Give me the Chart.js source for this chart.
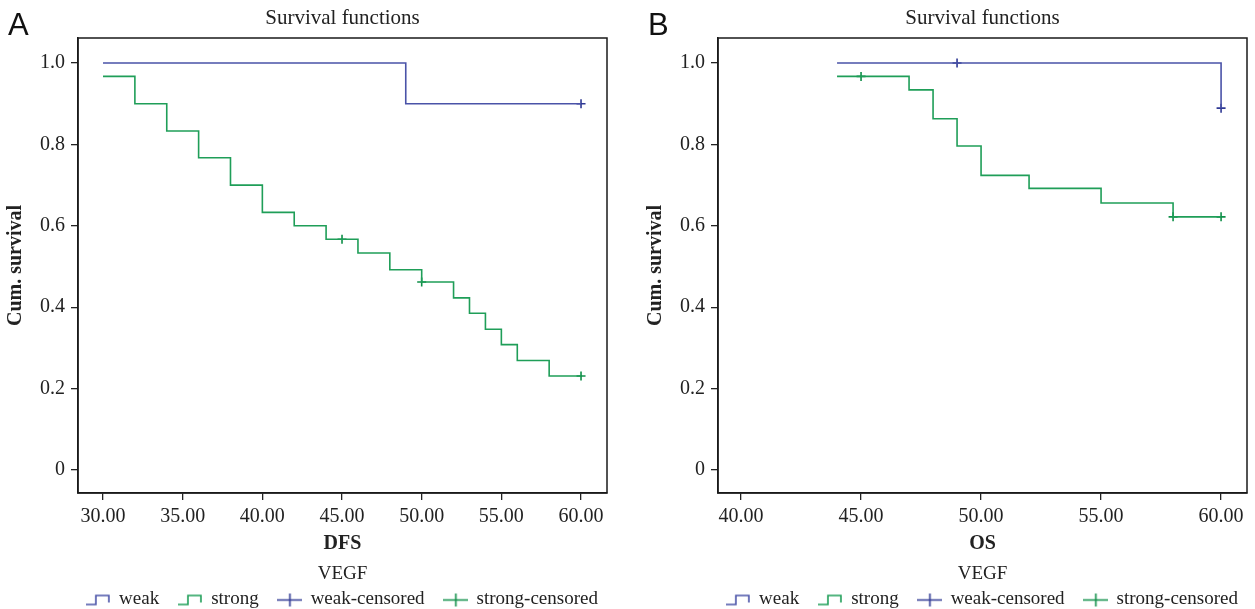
<!DOCTYPE html>
<html>
<head>
<meta charset="utf-8">
<title>Survival functions</title>
<script src="https://cdn.jsdelivr.net/npm/chart.js@4.4.1/dist/chart.umd.min.js"></script>
<style>
    html, body { margin: 0; padding: 0; background: #fff; overflow: hidden; }
    #wrap { position: relative; width: 1255px; height: 609px; overflow: hidden; }
    .panel { position: absolute; top: 0; width: 685px; height: 609px; }
    #panelA { left: 0; }
    #panelB { left: 640px; }
</style>
</head>
<body>
<div id="wrap">
    <div class="panel" id="panelA"><canvas id="chartA"></canvas></div>
    <div class="panel" id="panelB"><canvas id="chartB"></canvas></div>
</div>
<script>
// Panel A - DFS
const dfsWeakTime = [30, 49, 60];
const dfsWeakSurv = [1.0, 0.9, 0.9];
const dfsStrongTime = [30, 32, 34, 36, 38, 40, 42, 44, 46, 48, 50, 52, 53, 54, 55, 56, 58, 60];
const dfsStrongSurv = [0.967, 0.900, 0.833, 0.767, 0.700, 0.633, 0.600, 0.567, 0.533, 0.492, 0.462, 0.423, 0.385, 0.346, 0.308, 0.269, 0.231, 0.231];
const dfsWeakCensTime = [60];
const dfsWeakCensSurv = [0.9];
const dfsStrongCensTime = [45, 50, 60];
const dfsStrongCensSurv = [0.567, 0.462, 0.231];
const dfsTicks = [30, 35, 40, 45, 50, 55, 60];

// Panel B - OS
const osWeakTime = [44, 60];
const osWeakSurv = [1.0, 0.889];
const osStrongTime = [44, 47, 48, 49, 50, 52, 55, 58, 60];
const osStrongSurv = [0.967, 0.934, 0.863, 0.796, 0.724, 0.692, 0.656, 0.622, 0.622];
const osWeakCensTime = [49, 60];
const osWeakCensSurv = [1.0, 0.889];
const osStrongCensTime = [45, 58, 60];
const osStrongCensSurv = [0.967, 0.622, 0.622];
const osTicks = [40, 45, 50, 55, 60];

const survTicks = [0, 0.2, 0.4, 0.6, 0.8, 1.0];
const survLabels = ['0', '0.2', '0.4', '0.6', '0.8', '1.0'];
const groupLabels = ['weak', 'strong', 'weak-censored', 'strong-censored'];

const BLUE = '#4a53a8';
const BLUE_DARK = '#2f3994';
const GREEN = '#1f9e58';
const GREEN_DARK = '#0f8f48';
const TEXT = '#222';
const SERIF = "'Liberation Serif', 'DejaVu Serif', serif";

function toPoints(times, survs) {
    return times.map((t, i) => ({ x: t, y: survs[i] }));
}

// little legend icons: a step for the curves, a plus on a line for censored
function stepIcon(color) {
    const c = document.createElement('canvas');
    c.width = 25; c.height = 16;
    const ctx = c.getContext('2d');
    ctx.strokeStyle = color;
    ctx.lineWidth = 1.6;
    ctx.beginPath();
    ctx.moveTo(0, 13);
    ctx.lineTo(10, 13);
    ctx.lineTo(10, 4);
    ctx.lineTo(23, 4);
    ctx.lineTo(23, 11);
    ctx.stroke();
    return c;
}

function plusIcon(color) {
    const c = document.createElement('canvas');
    c.width = 25; c.height = 16;
    const ctx = c.getContext('2d');
    ctx.strokeStyle = color;
    ctx.lineWidth = 1.6;
    ctx.beginPath();
    ctx.moveTo(0, 8.5);
    ctx.lineTo(25, 8.5);
    ctx.moveTo(12.5, 2);
    ctx.lineTo(12.5, 15);
    ctx.stroke();
    return c;
}

const legendIcons = [stepIcon(BLUE), stepIcon(GREEN), plusIcon(BLUE_DARK), plusIcon(GREEN_DARK)];

// frame on all four sides + panel letter
const framePlugin = {
    id: 'frame',
    afterDraw(chart, args, opts) {
        const { ctx, chartArea } = chart;
        ctx.save();
        ctx.strokeStyle = '#1a1a1a';
        ctx.lineWidth = 1.5;
        ctx.strokeRect(chartArea.left, chartArea.top, chartArea.right - chartArea.left, chartArea.bottom - chartArea.top);
        ctx.fillStyle = '#111';
        ctx.font = "31px 'Liberation Sans Narrow', 'Liberation Sans', sans-serif";
        ctx.textBaseline = 'alphabetic';
        ctx.textAlign = 'left';
        ctx.fillText(opts.letter, opts.letterX, 35);
        ctx.restore();
    }
};

function makeChart(canvasId, cfg) {
    const ctx = document.getElementById(canvasId).getContext('2d');
    return new Chart(ctx, {
        type: 'scatter',
        data: {
            datasets: [
                {
                    label: groupLabels[0],
                    data: toPoints(cfg.weakTime, cfg.weakSurv),
                    showLine: true,
                    stepped: 'before',
                    borderColor: BLUE,
                    borderWidth: 1.6,
                    pointRadius: 0
                },
                {
                    label: groupLabels[1],
                    data: toPoints(cfg.strongTime, cfg.strongSurv),
                    showLine: true,
                    stepped: 'before',
                    borderColor: GREEN,
                    borderWidth: 1.6,
                    pointRadius: 0
                },
                {
                    label: groupLabels[2],
                    data: toPoints(cfg.weakCensTime, cfg.weakCensSurv),
                    pointStyle: 'cross',
                    pointRadius: 4.5,
                    pointBorderWidth: 1.6,
                    borderColor: BLUE_DARK
                },
                {
                    label: groupLabels[3],
                    data: toPoints(cfg.strongCensTime, cfg.strongCensSurv),
                    pointStyle: 'cross',
                    pointRadius: 4.5,
                    pointBorderWidth: 1.6,
                    borderColor: GREEN_DARK
                }
            ]
        },
        options: {
            responsive: true,
            maintainAspectRatio: false,
            animation: false,
            layout: { padding: 0 },
            plugins: {
                frame: { letter: cfg.letter, letterX: 8 },
                tooltip: { enabled: false },
                title: {
                    display: true,
                    text: 'Survival functions',
                    color: TEXT,
                    font: { family: SERIF, size: 21, weight: 'normal', lineHeight: 1.2 },
                    padding: { top: 5.4, bottom: 7.4 }
                },
                legend: {
                    display: true,
                    position: 'bottom',
                    maxHeight: 44,
                    title: {
                        display: true,
                        text: 'VEGF',
                        color: TEXT,
                        font: { family: SERIF, size: 19, lineHeight: 0.21 },
                        padding: { top: 0, bottom: 1 }
                    },
                    labels: {
                        usePointStyle: true,
                        pointStyleWidth: 22.5,
                        padding: 20,
                        color: TEXT,
                        font: { family: SERIF, size: 19 },
                        generateLabels: () => groupLabels.map((name, i) => ({
                            text: name,
                            pointStyle: legendIcons[i],
                            fillStyle: 'transparent',
                            strokeStyle: 'transparent',
                            lineWidth: 0,
                            fontColor: TEXT,
                            datasetIndex: i
                        }))
                    }
                }
            },
            scales: {
                x: {
                    type: 'linear',
                    min: cfg.xMin,
                    max: cfg.xMax,
                    afterBuildTicks: (scale) => { scale.ticks = cfg.xTicks.map(v => ({ value: v })); },
                    afterFit: (scale) => { scale.height = 72; },
                    grid: { display: true, drawOnChartArea: false, drawTicks: true, tickLength: 7, color: '#222', lineWidth: 1.3 },
                    border: { display: true, color: '#1a1a1a', width: 1.5 },
                    ticks: {
                        color: TEXT,
                        padding: 5,
                        maxRotation: 0,
                        font: { family: SERIF, size: 20 },
                        callback: (v) => Number(v).toFixed(2)
                    },
                    title: {
                        display: true,
                        text: cfg.xTitle,
                        color: TEXT,
                        font: { family: SERIF, size: 20, weight: 'bold' },
                        padding: { top: 0, bottom: 9 }
                    }
                },
                y: {
                    type: 'linear',
                    min: -0.0565,
                    max: 1.0614,
                    afterBuildTicks: (scale) => { scale.ticks = survTicks.map(v => ({ value: v })); },
                    afterFit: (scale) => { scale.width = 78; },
                    grid: { display: true, drawOnChartArea: false, drawTicks: true, tickLength: 7, color: '#222', lineWidth: 1.3 },
                    border: { display: true, color: '#1a1a1a', width: 1.5 },
                    ticks: {
                        color: TEXT,
                        padding: 6,
                        font: { family: SERIF, size: 20 },
                        callback: (v) => survLabels[survTicks.indexOf(v)] ?? ''
                    },
                    title: {
                        display: true,
                        text: 'Cum. survival',
                        color: TEXT,
                        font: { family: SERIF, size: 20, weight: 'bold' },
                        padding: { top: 4, bottom: 0 }
                    }
                },
                // empty right-hand spacer so title and legend center on the plot
                spacer: {
                    type: 'linear',
                    position: 'right',
                    display: true,
                    afterFit: (scale) => { scale.width = 78; },
                    grid: { display: false },
                    border: { display: false },
                    ticks: { display: false }
                }
            }
        },
        plugins: [framePlugin]
    });
}

document.addEventListener('DOMContentLoaded', function () {
    makeChart('chartA', {
        letter: 'A',
        xMin: 28.43, xMax: 61.63,
        xTicks: dfsTicks,
        xTitle: 'DFS',
        weakTime: dfsWeakTime, weakSurv: dfsWeakSurv,
        strongTime: dfsStrongTime, strongSurv: dfsStrongSurv,
        weakCensTime: dfsWeakCensTime, weakCensSurv: dfsWeakCensSurv,
        strongCensTime: dfsStrongCensTime, strongCensSurv: dfsStrongCensSurv
    });

    makeChart('chartB', {
        letter: 'B',
        xMin: 39.04, xMax: 61.08,
        xTicks: osTicks,
        xTitle: 'OS',
        weakTime: osWeakTime, weakSurv: osWeakSurv,
        strongTime: osStrongTime, strongSurv: osStrongSurv,
        weakCensTime: osWeakCensTime, weakCensSurv: osWeakCensSurv,
        strongCensTime: osStrongCensTime, strongCensSurv: osStrongCensSurv
    });
});
</script>
</body>
</html>
